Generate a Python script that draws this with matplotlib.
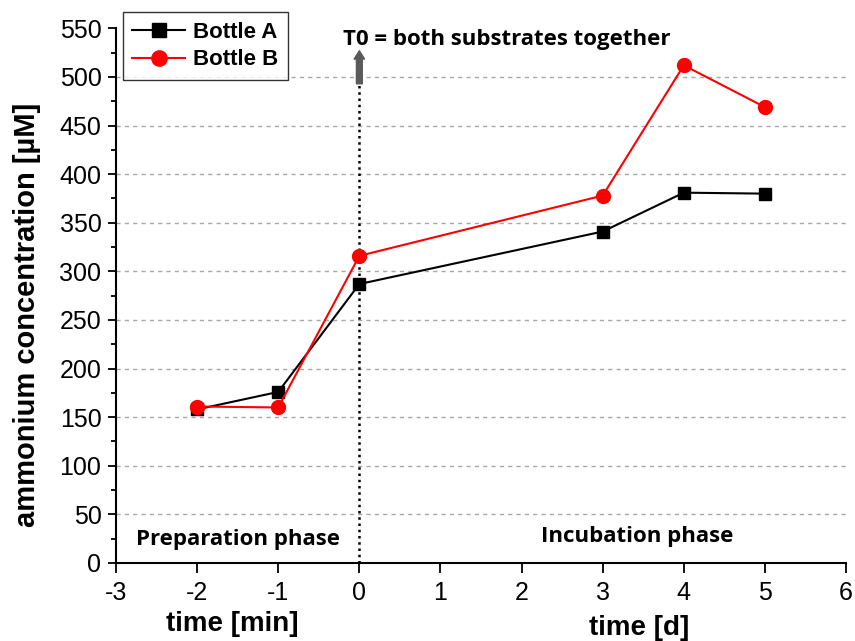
import numpy as np
import matplotlib.pyplot as plt
from matplotlib.ticker import MultipleLocator

# ---------------- Data ----------------
time_pts = [-2, -1, 0, 3, 4, 5]
bottle_a = [158, 176, 287, 341, 381, 380]
bottle_b = [161, 160, 316, 378, 512, 469]

plt.rcParams['font.family'] = ['Liberation Sans', 'DejaVu Sans']
plt.rcParams['axes.unicode_minus'] = False

fig = plt.figure(figsize=(8.55, 6.41), dpi=100)
ax = fig.add_axes([0.1357, 0.1217, 0.8538, 0.834])

# dashed grid lines
for yv in range(50, 550, 50):
    ax.axhline(yv, color='#a8a8a8', lw=1.0, ls=(0, (3, 3)), zorder=0)

ax.plot(time_pts, bottle_a, color='black', lw=1.5, marker='s', ms=9,
        label='Bottle A', zorder=3)
ax.plot(time_pts, bottle_b, color='red', lw=1.5, marker='o', ms=10,
        label='Bottle B', zorder=4)

# T0 marker: dotted line with a small arrow on top
ax.plot([0, 0], [0, 493], color='black', lw=1.8, ls=(0, (1, 1.5)), zorder=2)
ax.annotate('', xy=(0, 527), xytext=(0, 493),
            arrowprops=dict(arrowstyle='simple,head_width=0.75,head_length=0.6,tail_width=0.42',
                            color='#5a5a5a', shrinkA=0, shrinkB=0), zorder=2)
ax.text(-0.2, 539, 'T0 = both substrates together', fontsize=16,
        fontweight='bold', family='Open Sans', ha='left', va='center')

ax.text(-2.75, 24, 'Preparation phase', fontsize=16, fontweight='bold',
        family='Open Sans', ha='left', va='center')
ax.text(3.43, 27, 'Incubation phase', fontsize=16, fontweight='bold',
        family='Open Sans', ha='center', va='center')

ax.set_xlim(-3, 6)
ax.set_ylim(0, 550)
ax.xaxis.set_major_locator(MultipleLocator(1))
ax.yaxis.set_major_locator(MultipleLocator(50))
ax.yaxis.set_minor_locator(MultipleLocator(25))
ax.tick_params(axis='both', which='major', labelsize=18, width=1.3,
               direction='out')
ax.tick_params(axis='y', which='major', length=5.5, pad=5)
ax.tick_params(axis='x', which='major', length=7, pad=6)
ax.tick_params(axis='y', which='minor', length=3.5, width=1.3, direction='out')
for s in ['top', 'right']:
    ax.spines[s].set_visible(False)
for s in ['left', 'bottom']:
    ax.spines[s].set_linewidth(1.5)

fig.text(0.0316, 0.5086, 'ammonium concentration [\u00b5M]', fontsize=21,
         fontweight='bold', rotation=90, ha='center', va='center')
fig.text(0.272, 0.026, 'time [min]', fontsize=20, fontweight='bold',
         ha='center', va='center')
fig.text(0.748, 0.020, 'time [d]', fontsize=20, fontweight='bold',
         ha='center', va='center')

leg = ax.legend(loc='upper left', bbox_to_anchor=(0.009, 1.03),
                prop={'weight': 'bold', 'size': 16}, frameon=True,
                fancybox=False, edgecolor='black', handlelength=2.4,
                borderpad=0.42, labelspacing=0.3, handletextpad=0.35,
                borderaxespad=0, markerscale=1.1)
leg.get_frame().set_linewidth(1.0)

fig.savefig('out.png', dpi=100)
